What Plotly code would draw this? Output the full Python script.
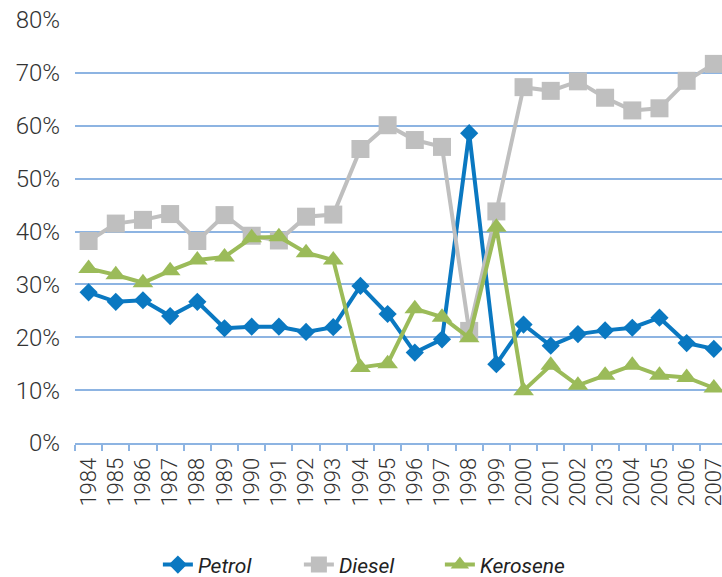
import plotly.graph_objects as go

years = [str(y) for y in range(1984, 2008)]

petrol = [28.5, 26.7, 27.0, 24.0, 26.7, 21.7, 22.0, 22.0, 21.0, 21.9,
          29.7, 24.4, 17.1, 19.6, 58.6, 14.9, 22.4, 18.4, 20.6, 21.3,
          21.8, 23.7, 18.9, 17.8]
diesel = [38.2, 41.5, 42.2, 43.3, 38.2, 43.1, 39.2, 38.3, 42.8, 43.2,
          55.6, 60.1, 57.3, 56.0, 21.2, 43.8, 67.3, 66.6, 68.4, 65.3,
          62.9, 63.3, 68.5, 71.7]
kerosene = [33.0, 31.8, 30.3, 32.6, 34.6, 35.2, 38.8, 39.0, 36.0, 34.6,
            14.3, 15.0, 25.4, 23.8, 19.9, 40.8, 9.9, 14.7, 10.9, 12.8,
            14.7, 12.8, 12.4, 10.4]

y_ticks = [0, 10, 20, 30, 40, 50, 60, 70, 80]
y_labels = [f"{v}%" for v in y_ticks]

grid_blue = "#8db4e2"
text_col = "#333333"
font_family = "Roboto, 'Open Sans', sans-serif"

series = [
    ("Petrol", petrol, "#0a78c1", "diamond", 14),
    ("Diesel", diesel, "#bfbfbf", "square", 18),
    ("Kerosene", kerosene, "#9bbb59", "triangle-up", 18),
]

fig = go.Figure()
for name, vals, col, sym, size in series:
    fig.add_trace(go.Scatter(
        x=years, y=vals, name=name, mode="lines+markers",
        line=dict(color=col, width=4),
        marker=dict(symbol=sym, size=size, color=col, line=dict(width=0)),
    ))

fig.update_layout(
    width=722, height=577,
    margin=dict(l=75, r=0, t=20, b=134, autoexpand=False),
    paper_bgcolor="white", plot_bgcolor="white",
    font=dict(family=font_family, color=text_col),
    showlegend=True,
    legend=dict(
        orientation="h", x=0.455, xanchor="center",
        yref="container", y=0.021, yanchor="middle",
        font=dict(size=21, style="italic", color="#222222", family=font_family),
        tracegroupgap=0, entrywidth=96,
    ),
    xaxis=dict(
        type="category", range=[-0.5, 23.3],
        tickmode="linear", tick0=0, dtick=1,
        tickson="boundaries", ticks="outside", ticklen=6, tickwidth=2,
        tickcolor=grid_blue, showline=True, linecolor=grid_blue, linewidth=2,
        showgrid=False, tickangle=-90,
        tickfont=dict(size=22, color=text_col, weight=300),
        ticklabelstandoff=4, automargin=False,
        zeroline=False,
    ),
    yaxis=dict(
        range=[0, 80], tickvals=y_ticks, ticktext=y_labels,
        showgrid=True, gridcolor=grid_blue, gridwidth=2,
        zeroline=False, showline=False, ticks="",
        tickfont=dict(size=24, color=text_col, weight=300),
        ticklabelstandoff=14, automargin=False,
    ),
)

fig.write_html("out.html")
